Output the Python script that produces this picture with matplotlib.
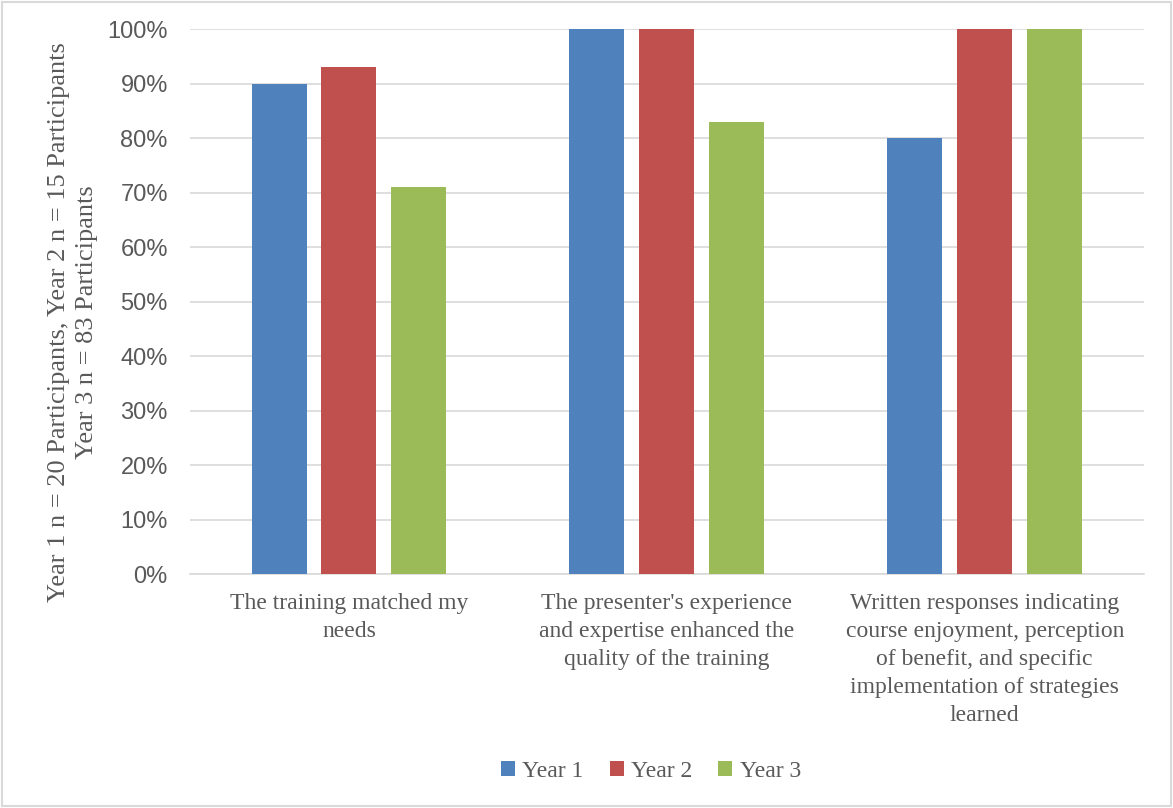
import numpy as np
import matplotlib
matplotlib.use("Agg")
import matplotlib.pyplot as plt
from matplotlib.ticker import PercentFormatter

categories = [
    "The training matched my\nneeds",
    "The presenter's experience\nand expertise enhanced the\nquality of the training",
    "Written responses indicating\ncourse enjoyment, perception\nof benefit, and specific\nimplementation of strategies\nlearned",
]
series = ["Year 1", "Year 2", "Year 3"]
year1 = [90, 100, 80]
year2 = [93, 100, 100]
year3 = [71, 83, 100]
colors = ["#4F81BD", "#C0504D", "#9BBB59"]

TXT = "#595959"
SERIF = ["Liberation Serif", "DejaVu Serif"]
SANS = ["Liberation Sans", "DejaVu Sans"]

fig = plt.figure(figsize=(11.73, 8.08), dpi=100)
ax = fig.add_axes([0.162, 0.2896, 0.813, 0.6745])

x = np.arange(len(categories))
width = 0.173
step = 0.22
for i, (vals, name) in enumerate(zip([year1, year2, year3], series)):
    ax.bar(x + (i - 1) * step, vals, width, color=colors[i], label=name, zorder=3)

ax.set_xlim(-0.5, 2.5)
ax.set_ylim(0, 100)
ax.set_yticks(np.arange(0, 101, 10))
ax.yaxis.set_major_formatter(PercentFormatter(decimals=0))
ax.grid(axis="y", color="#d9d9d9", linewidth=1.2, zorder=0)
for s in ["top", "right", "left"]:
    ax.spines[s].set_visible(False)
ax.spines["bottom"].set_color("#d9d9d9")
ax.spines["bottom"].set_linewidth(1.2)
ax.tick_params(axis="both", length=0)
ax.tick_params(axis="y", pad=16, labelsize=17, labelcolor=TXT)
ax.tick_params(axis="x", pad=14)
ax.set_xticks(x)
ax.set_xticklabels(categories, fontsize=17, color=TXT, family=SERIF, linespacing=1.43)
for lab in ax.get_yticklabels():
    lab.set_family(SANS)

# y axis title, placed by hand in figure coords
fig.text(73 / 1173, 1 - 322 / 808,
         "Year 1 n = 20 Participants, Year 2 n = 15 Participants\nYear 3 n = 83 Participants",
         rotation=90, ha="center", va="center", multialignment="center",
         fontsize=19, color=TXT, family=SERIF, linespacing=1.3)

fig.legend(loc="center", bbox_to_anchor=(0.555, 0.045), ncol=3, frameon=False,
           prop={"family": SERIF, "size": 17}, labelcolor=TXT,
           handlelength=0.6, handleheight=0.6, handletextpad=0.3, columnspacing=1.1)

fig.patches.append(plt.Rectangle((0.002, 0.002), 0.996, 0.996, transform=fig.transFigure,
                                 fill=False, edgecolor="#d9d9d9", linewidth=1.5))

fig.savefig("out.png", dpi=100)
